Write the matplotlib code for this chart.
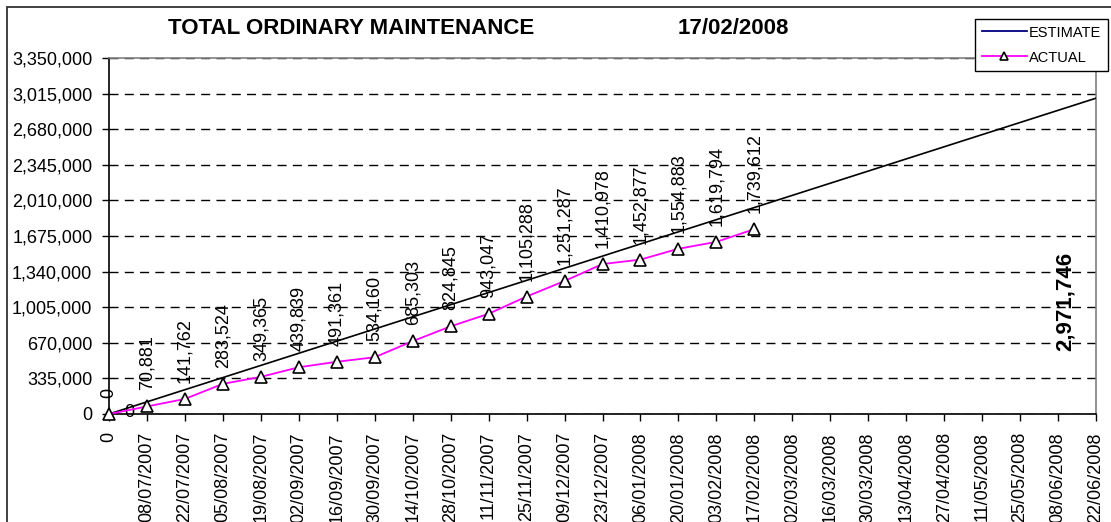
import numpy as np
import matplotlib
matplotlib.use('Agg')
import matplotlib.pyplot as plt
from matplotlib.lines import Line2D
from matplotlib.patches import Rectangle

plt.rcParams['font.family'] = ['Liberation Sans', 'DejaVu Sans']

# categorias del eje x (primera es "0", luego cada 14 dias)
dates = ['0', '08/07/2007', '22/07/2007', '05/08/2007', '19/08/2007', '02/09/2007',
         '16/09/2007', '30/09/2007', '14/10/2007', '28/10/2007', '11/11/2007',
         '25/11/2007', '09/12/2007', '23/12/2007', '06/01/2008', '20/01/2008',
         '03/02/2008', '17/02/2008', '02/03/2008', '16/03/2008', '30/03/2008',
         '13/04/2008', '27/04/2008', '11/05/2008', '25/05/2008', '08/06/2008',
         '22/06/2008']

# valores reales acumulados (hasta 17/02/2008)
actual = [0, 70881, 141762, 283524, 349365, 439839, 491361, 534160, 685303,
          824845, 943047, 1105288, 1251287, 1410978, 1452877, 1554883,
          1619794, 1739612]

# estimado: recta de 0 a 2,971,746
estimate_idx = [0, 26]
estimate = [0, 2971746]

yticks = np.arange(0, 3350001, 335000)

W, H = 1111, 522
fig = plt.figure(figsize=(W / 100, H / 100), dpi=100)
ax = fig.add_axes([109 / W, (H - 414) / H, (1096 - 109) / W, (414 - 58) / H])

x = np.arange(len(dates))
xa = np.arange(len(actual))

ax.plot(estimate_idx, estimate, color='black', lw=1.2, zorder=3)
ax.plot(xa, actual, color='#ff00ff', lw=1.3, marker='^', markersize=9,
        markerfacecolor='white', markeredgecolor='black', markeredgewidth=1.2,
        clip_on=False, zorder=4)

for i, v in enumerate(actual):
    ax.annotate(f'{v:,}', (i, v), xytext=(0, 11.5), textcoords='offset points',
                rotation=90, ha='center', va='bottom', fontsize=13)

ax.text(0.54, 15000, '0', ha='center', va='center', fontsize=13)
ax.text(25.2, 1063000, f'{estimate[-1]:,}', rotation=90, ha='center', va='center',
        fontsize=16, fontweight='bold')

ax.set_xlim(0, 26)
ax.set_ylim(0, 3350000)
ax.set_xticks(x)
ax.set_xticklabels(dates, rotation=90, fontsize=13)
ax.set_yticks(yticks)
ax.set_yticklabels([f'{v:,}' for v in yticks], fontsize=13)
ax.tick_params(axis='y', length=5, width=1, pad=7, direction='out')
ax.tick_params(axis='x', length=5, width=1, pad=8, direction='out')

ax.yaxis.grid(True, color='black', lw=1, linestyle=(0, (6.5, 4.5)))
ax.set_axisbelow(True)

for s in ['left', 'bottom']:
    ax.spines[s].set_color('black')
    ax.spines[s].set_linewidth(1.2)
for s in ['top', 'right']:
    ax.spines[s].set_color('#808080')
    ax.spines[s].set_linewidth(1.2)

fig.text(168 / W, 1 - 29 / H, 'TOTAL ORDINARY MAINTENANCE', fontsize=16,
         fontweight='bold', ha='left', va='center')
fig.text(678 / W, 1 - 29 / H, '17/02/2008', fontsize=16, fontweight='bold',
         ha='left', va='center')

# marco exterior del grafico
fig.patches.append(Rectangle((7 / W, -0.1), 1.2, 1.1 - 7 / H, transform=fig.transFigure,
                             fill=False, edgecolor='#333333', lw=1.3, clip_on=False))

handles = [Line2D([], [], color='#000080', lw=1.3),
           Line2D([], [], color='#ff00ff', lw=1.3, marker='^', markersize=6,
                  markerfacecolor='white', markeredgecolor='black', markeredgewidth=1.2)]
leg = fig.legend(handles, ['ESTIMATE', 'ACTUAL'], loc='upper left',
                 bbox_to_anchor=(975 / W, 1 - 19 / H), fontsize=10.5, frameon=True,
                 fancybox=False, handlelength=3.1, handletextpad=0.15,
                 labelspacing=0.75, borderpad=0.45, borderaxespad=0, numpoints=1)
leg.get_frame().set_edgecolor('black')
leg.get_frame().set_linewidth(1)
leg.get_frame().set_alpha(1)

fig.savefig('out.png', dpi=100)
